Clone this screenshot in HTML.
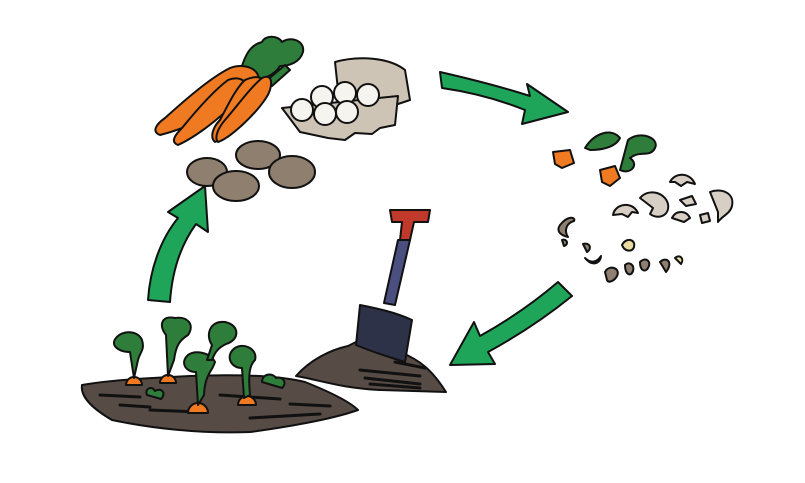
<!DOCTYPE html>
<html><head><meta charset="utf-8"><style>html,body{margin:0;padding:0;background:#fff}svg{display:block}</style></head>
<body>
<svg width="805" height="483" viewBox="0 0 805 483" xmlns="http://www.w3.org/2000/svg" stroke-linejoin="round" stroke-linecap="round">
<!-- green arrows -->
<g fill="#1fa55a" stroke="#111" stroke-width="2">
<path d="M440,72 C475,80 505,88 530,96 L527,84 L568,112 L522,124 L525,110 C500,100 470,92 442,88 Z"/>
<path d="M572,296 C540,322 510,340 488,352 L495,364 L450,365 L474,322 L480,336 C505,322 530,306 558,282 Z"/>
<path d="M148,300 C150,270 160,240 178,218 L168,212 L205,186 L208,232 L196,224 C180,246 172,272 170,302 Z"/>
</g>
<!-- carrot tops (greens) -->
<g fill="#2e7d3a" stroke="#111" stroke-width="2">
<path d="M240,72 C245,55 250,45 262,42 C265,35 278,35 282,42 C290,36 305,40 303,52 C300,62 290,66 280,66 C275,75 262,80 250,82 Z"/>
<path d="M265,82 L285,65 L290,70 L272,86 Z"/>
</g>
<!-- carrots -->
<g fill="#f07a22" stroke="#111" stroke-width="2">
<path d="M230,68 C245,62 262,70 258,82 C240,100 200,125 160,135 C152,132 155,125 165,118 C185,100 210,78 230,68 Z"/>
<path d="M228,80 C240,75 250,82 245,92 C230,110 200,135 178,145 C170,142 175,135 182,128 C195,112 212,92 228,80 Z"/>
<path d="M245,80 C258,74 270,78 265,92 C250,112 225,138 215,142 C210,138 212,128 220,120 C228,105 236,88 245,80 Z"/>
<path d="M262,78 C275,72 272,90 266,98 C255,115 230,138 218,142 C214,138 218,128 225,120 C238,105 250,88 262,78 Z"/>
</g>
<!-- egg carton -->
<g stroke="#111" stroke-width="2">
<path d="M335,62 C360,55 390,58 405,70 L410,100 L395,105 L338,90 Z" fill="#cdc4b6"/>
<path d="M282,108 L398,96 L395,125 L380,128 L372,134 L355,133 L345,140 L328,138 L300,132 Z" fill="#cdc4b6"/>
<g fill="#f6f4ee">
<ellipse cx="322" cy="97" rx="11" ry="11"/>
<ellipse cx="345" cy="93" rx="11" ry="11"/>
<ellipse cx="368" cy="95" rx="11" ry="11"/>
<ellipse cx="302" cy="110" rx="11" ry="11"/>
<ellipse cx="325" cy="114" rx="11" ry="11"/>
<ellipse cx="347" cy="112" rx="11" ry="11"/>
</g>
</g>
<!-- potatoes -->
<g fill="#8f7f6e" stroke="#111" stroke-width="2">
<ellipse cx="258" cy="155" rx="22" ry="14"/>
<ellipse cx="207" cy="172" rx="20" ry="14"/>
<ellipse cx="236" cy="186" rx="23" ry="15"/>
<ellipse cx="292" cy="172" rx="23" ry="16"/>
</g>
<!-- scraps -->
<g stroke="#111" stroke-width="2">
<path d="M585,148 C595,132 612,128 620,138 C615,148 600,150 590,150 Z" fill="#2e7d3a"/>
<path d="M628,140 C640,130 660,138 655,148 C650,158 640,150 630,158 C640,165 630,175 620,170 Z" fill="#2e7d3a"/>
<path d="M553,152 L570,150 L574,163 L562,168 L555,164 Z" fill="#f07a22"/>
<path d="M600,170 L615,166 L620,178 L610,186 L602,182 Z" fill="#f07a22"/>
<g fill="#d8cfc4">
<path d="M670,182 c5,-10 20,-10 25,2 l-8,-2 l-6,4 l-6,-4 Z"/>
<path d="M640,198 c8,-10 25,-6 28,6 c2,12 -10,16 -18,10 l3,-6 Z"/>
<path d="M613,215 c2,-12 20,-14 25,-2 l-6,-1 l-4,5 l-6,-3 Z"/>
<path d="M680,200 l12,-4 l4,8 l-10,2 Z"/>
<path d="M710,192 c10,-4 25,0 22,14 c-2,8 -10,10 -14,16 l0,-10 Z"/>
<path d="M672,218 c4,-8 14,-8 18,0 l-6,4 Z"/>
<path d="M700,215 l8,-2 l2,8 l-8,2 Z"/>
</g>
<g fill="#8f7f70">
<path d="M560,225 c8,-10 16,-8 14,-4 c-8,2 -10,10 -6,16 c-8,-2 -12,-6 -8,-12 Z"/>
<path d="M562,240 c4,-2 8,4 2,6 Z"/>
<path d="M583,244 c6,-2 10,4 4,8 Z"/>
<path d="M585,258 c6,6 12,4 16,-2 c0,6 -8,12 -16,2 Z"/>
<path d="M605,272 c4,-8 16,-4 12,4 c-2,4 -8,8 -10,4 Z"/>
<path d="M625,265 c4,-4 10,0 8,6 c-2,6 -8,4 -8,-6 Z"/>
<path d="M640,262 c6,-6 12,0 8,6 c-2,4 -8,4 -8,-6 Z"/>
<path d="M660,262 c6,-6 14,0 6,10 Z"/>
</g>
<g fill="#e8dca0">
<path d="M622,245 c4,-8 14,-6 12,2 c-2,6 -10,4 -12,-2 Z"/>
<path d="M675,258 c4,-4 10,0 6,6 Z"/>
</g>
</g>
<!-- mound -->
<g stroke="#111" stroke-width="2">
<path d="M296,376 C310,360 330,350 348,346 L360,340 L400,352 C420,360 432,370 446,392 L380,390 C340,388 320,380 296,376 Z" fill="#574b46"/>
<path d="M360,370 l60,6 M365,378 l55,6 M370,384 l50,4 M395,362 l30,6" stroke="#111" stroke-width="3" fill="none"/>
</g>
<!-- shovel -->
<g stroke="#111" stroke-width="2">
<path d="M390,210 L430,210 L428,222 L414,222 L410,240 L400,240 L402,222 L392,222 Z" fill="#c0392b"/>
<path d="M398,240 L410,240 L395,305 L384,303 Z" fill="#4a4f80"/>
<path d="M360,305 C375,308 395,312 412,320 L405,362 C385,356 368,350 356,345 Z" fill="#2e3248"/>
</g>
<!-- garden bed -->
<g stroke="#111" stroke-width="2">
<path d="M82,385 C110,380 150,378 190,376 C240,374 280,376 305,382 C330,392 350,402 358,410 C330,420 280,428 250,432 C200,434 150,428 112,420 C95,410 80,398 82,385 Z" fill="#574b46"/>
<path d="M100,395 l40,2 M150,410 l50,2 M220,395 l60,4 M250,418 l70,-4 M120,405 l30,2 M290,404 l40,2" stroke="#111" stroke-width="3" fill="none"/>
<g fill="#f07a22"><path d="M126,385 a8,8 0 0 1 16,0 Z"/><path d="M160,383 a8,8 0 0 1 16,0 Z"/><path d="M188,413 a10,10 0 0 1 20,0 Z"/><path d="M238,405 a9,9 0 0 1 18,0 Z"/></g>
<g fill="#2e7d3a">
<path d="M134,378 L130,352 C118,352 110,345 116,338 C122,330 138,330 142,340 C145,350 140,352 138,360 Z"/>
<path d="M168,376 L166,335 C158,325 162,315 175,318 C188,316 195,325 188,335 C180,340 176,345 174,360 Z"/>
<path d="M198,405 L196,372 C185,372 180,362 188,355 C195,350 210,352 215,362 C212,372 205,374 204,395 Z"/>
<path d="M207,360 L212,345 C205,335 210,320 225,322 C240,325 240,340 226,344 C218,348 215,352 212,360 Z"/>
<path d="M244,398 L242,368 C230,368 225,355 235,348 C245,342 258,350 255,360 C250,365 248,372 250,395 Z"/>
<path d="M147,395 c-3,-6 5,-10 8,-4 c6,-4 12,2 6,8 Z"/>
<path d="M262,382 c0,-8 10,-10 14,-4 c6,-2 12,4 6,10 Z"/>
</g>
</g>
</svg>
</body></html>
